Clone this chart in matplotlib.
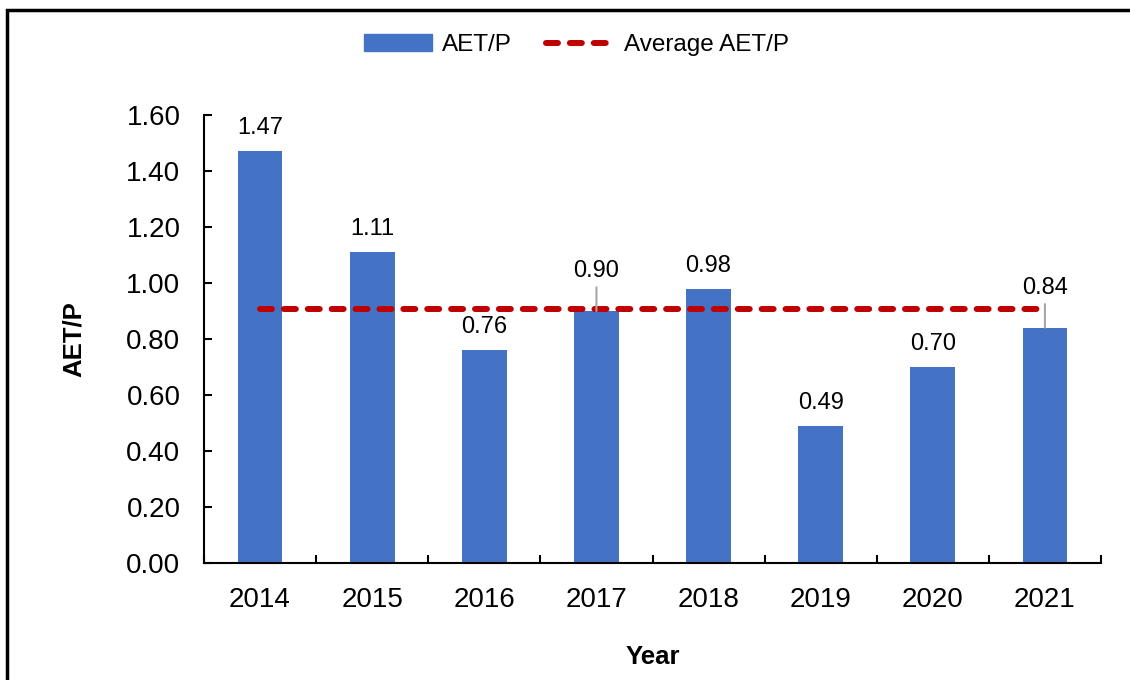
import numpy as np
import matplotlib.pyplot as plt
from matplotlib.patches import Patch, Rectangle
from matplotlib.lines import Line2D

plt.rcParams['font.family'] = ['Liberation Sans', 'DejaVu Sans']

# AET/P per year
years = ["2014", "2015", "2016", "2017", "2018", "2019", "2020", "2021"]
aet_p = [1.47, 1.11, 0.76, 0.90, 0.98, 0.49, 0.70, 0.84]
avg = np.mean(aet_p)

blue = "#4472C4"
red = "#C00000"

fig = plt.figure(figsize=(11.3, 6.8), dpi=100)
ax = fig.add_axes([204 / 1130, 1 - 563 / 680, 897 / 1130, 448 / 680])

x = np.arange(len(years))
ax.bar(x, aet_p, width=0.4, color=blue, zorder=2)
ax.plot(x, [avg] * len(x), color=red, lw=4.3, dashes=(2, 2),
        dash_capstyle="round", zorder=3)

# value labels, two of them lifted above the average line with a leader
for i, v in enumerate(aet_p):
    if years[i] in ("2017", "2021"):
        ax.annotate(f"{v:.2f}", (i, v), xytext=(0, 29), textcoords="offset points",
                    ha="center", va="center", fontsize=17,
                    arrowprops=dict(arrowstyle="-", color="#A6A6A6", lw=1.5,
                                    shrinkA=2, shrinkB=0), zorder=4)
    else:
        ax.annotate(f"{v:.2f}", (i, v), xytext=(0, 16.5), textcoords="offset points",
                    ha="center", va="center", fontsize=17, zorder=4)

ax.set_xlim(-0.5, len(years) - 0.5)
ax.set_ylim(0, 1.6)
ax.set_yticks(np.arange(0, 1.61, 0.2))
ax.set_yticklabels([f"{t:.2f}" for t in np.arange(0, 1.61, 0.2)])
ax.set_xticks(x)
ax.set_xticklabels(years)
ax.set_xticks(np.arange(-0.5, len(years)), minor=True)

ax.tick_params(axis="x", which="major", length=0, pad=17, labelsize=20)
ax.tick_params(axis="x", which="minor", direction="in", length=6, width=1.5)
ax.tick_params(axis="y", direction="in", length=6, width=1.5, pad=17, labelsize=20)

for s in ["top", "right"]:
    ax.spines[s].set_visible(False)
for s in ["left", "bottom"]:
    ax.spines[s].set_linewidth(1.5)

ax.set_xlabel("Year", fontsize=18.5, fontweight="bold", labelpad=23)
ax.set_ylabel("AET/P", fontsize=18.5, fontweight="bold", labelpad=29)

handles = [Patch(color=blue, label="AET/P"),
           Line2D([], [], color=red, lw=4.3, dashes=(2, 2), dash_capstyle="round",
                  label="Average AET/P")]
fig.legend(handles=handles, loc="center", bbox_to_anchor=(0.51, 1 - 45 / 680),
           ncol=2, frameon=False, fontsize=17.5, handlelength=2.8,
           handletextpad=0.4, columnspacing=1.4)

# outer frame
fig.patches.append(Rectangle((7 / 1130, -0.2), 1.3, 1.2 - 9.5 / 680,
                             transform=fig.transFigure, fill=False,
                             edgecolor="black", lw=2.5))

fig.savefig("out.png", dpi=100)
